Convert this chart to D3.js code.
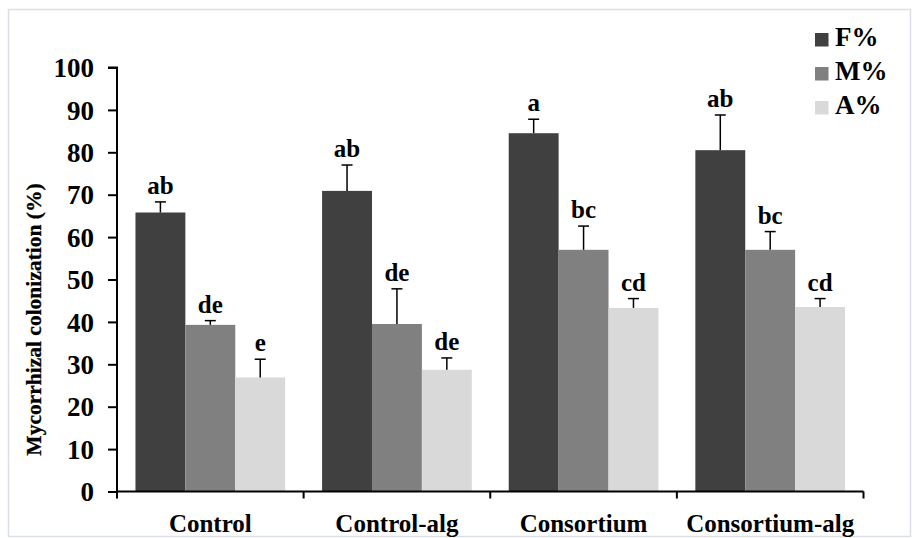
<!DOCTYPE html>
<html>
<head>
<meta charset="utf-8">
<script src="https://cdn.jsdelivr.net/npm/d3@7"></script>
<style>
  html, body { margin: 0; padding: 0; background: #fff; }
  svg { display: block; }
  svg text { font-family: "Liberation Serif", "Times New Roman", serif; font-weight: bold; }
</style>
</head>
<body>
<svg id="chart" width="912" height="538"></svg>
<script>
// Treatments and measured colonization parameters
const categories = ["Control", "Control-alg", "Consortium", "Consortium-alg"];
const seriesNames = ["F%", "M%", "A%"];
const seriesColors = ["#404040", "#808080", "#d9d9d9"];

// Mean values per series (one value per treatment)
const fValues = [65.8, 70.9, 84.5, 80.5];
const mValues = [39.3, 39.5, 57.0, 57.0];
const aValues = [26.9, 28.7, 43.3, 43.5];

// Upper end of each error bar
const fErrTop = [68.3, 77.0, 87.8, 88.8];
const mErrTop = [40.3, 47.8, 62.6, 61.3];
const aErrTop = [31.2, 31.5, 45.5, 45.5];

// Significance letters
const fLetters = ["ab", "ab", "a", "ab"];
const mLetters = ["de", "de", "bc", "bc"];
const aLetters = ["e", "de", "cd", "cd"];

const yTicks = [0, 10, 20, 30, 40, 50, 60, 70, 80, 90, 100];

const series = [
  { name: seriesNames[0], color: seriesColors[0], values: fValues, err: fErrTop, letters: fLetters },
  { name: seriesNames[1], color: seriesColors[1], values: mValues, err: mErrTop, letters: mLetters },
  { name: seriesNames[2], color: seriesColors[2], values: aValues, err: aErrTop, letters: aLetters }
];

const svg = d3.select("#chart");

// outer frame
svg.append("rect")
  .attr("x", 8.5).attr("y", 9.5)
  .attr("width", 902).attr("height", 527)
  .attr("fill", "none").attr("stroke", "#dcdfe6").attr("stroke-width", 1.5);

const plot = { left: 117, right: 863.5, top: 67.5, bottom: 491.5 };

const x = d3.scaleBand().domain(categories).range([plot.left, plot.right]).paddingInner(0).paddingOuter(0);
const inner = d3.scaleBand().domain(seriesNames).range([0, x.bandwidth()]).paddingInner(0).paddingOuter(0.37);
const y = d3.scaleLinear().domain([0, 100]).range([plot.bottom, plot.top]);

// bars
const groups = svg.append("g").selectAll("g")
  .data(series).join("g");

groups.selectAll("rect")
  .data(s => s.values.map((v, i) => ({ v, i, s })))
  .join("rect")
  .attr("x", d => x(categories[d.i]) + inner(d.s.name))
  .attr("y", d => y(d.v))
  .attr("width", inner.bandwidth())
  .attr("height", d => y(0) - y(d.v))
  .attr("fill", d => d.s.color);

// error bars (upper half only)
const errG = svg.append("g").attr("stroke", "#000").attr("stroke-width", 1.5);
series.forEach(s => {
  s.values.forEach((v, i) => {
    const cx = x(categories[i]) + inner(s.name) + inner.bandwidth() / 2;
    errG.append("line").attr("x1", cx).attr("x2", cx).attr("y1", y(v)).attr("y2", y(s.err[i]));
    errG.append("line").attr("x1", cx - 5.5).attr("x2", cx + 5.5).attr("y1", y(s.err[i])).attr("y2", y(s.err[i]));
  });
});

// significance letters
series.forEach(s => {
  svg.append("g").selectAll("text")
    .data(s.letters)
    .join("text")
    .attr("x", (d, i) => x(categories[i]) + inner(s.name) + inner.bandwidth() / 2)
    .attr("y", (d, i) => y(s.err[i]) - 8)
    .attr("text-anchor", "middle")
    .attr("font-size", 25)
    .attr("fill", "#000")
    .text(d => d);
});

// y axis
const yAxis = d3.axisLeft(y).tickValues(yTicks).tickSize(9).tickPadding(14).tickFormat(d3.format("d"));
const yg = svg.append("g").attr("transform", `translate(${plot.left},0)`).call(yAxis);
yg.attr("font-family", null).attr("font-size", null);
yg.select(".domain").attr("stroke", "#000").attr("stroke-width", 2).attr("d", `M-9,${plot.top}H0V${plot.bottom}`);
yg.selectAll(".tick line").attr("stroke", "#000").attr("stroke-width", 2);
yg.selectAll(".tick text").attr("font-size", 27).attr("fill", "#000").attr("dy", "0.34em");

// x axis with ticks at category boundaries
const xg = svg.append("g").attr("transform", `translate(0,${plot.bottom})`);
xg.append("line").attr("x1", plot.left).attr("x2", plot.right).attr("y1", 0).attr("y2", 0)
  .attr("stroke", "#000").attr("stroke-width", 2);
const bounds = categories.map(c => x(c)).concat([plot.right]);
xg.selectAll("line.tk").data(bounds).join("line").attr("class", "tk")
  .attr("x1", d => d).attr("x2", d => d).attr("y1", 0).attr("y2", 7)
  .attr("stroke", "#000").attr("stroke-width", 2);
xg.selectAll("text").data(categories).join("text")
  .attr("x", d => x(d) + x.bandwidth() / 2)
  .attr("y", 40)
  .attr("text-anchor", "middle")
  .attr("font-size", 25)
  .attr("fill", "#000")
  .text(d => d);

// y axis title
svg.append("text")
  .attr("transform", `translate(41,${(plot.top + plot.bottom) / 2 + 40}) rotate(-90)`)
  .attr("text-anchor", "middle")
  .style("font-family", "'Liberation Serif', serif")
  .style("font-weight", "700")
  .style("font-size", "21.5px")
  .style("stroke", "#000")
  .style("stroke-width", "0.3px")
  .attr("fill", "#000")
  .text("Mycorrhizal colonization (%)");

// legend
const legend = svg.append("g").attr("transform", "translate(815,33)");
series.forEach((s, i) => {
  const g = legend.append("g").attr("transform", `translate(0,${i * 34})`);
  g.append("rect").attr("x", 0).attr("y", 0).attr("width", 13.5).attr("height", 13.5).attr("fill", s.color);
  g.append("text").attr("x", 20).attr("y", 13).attr("font-size", 27).attr("fill", "#000").text(s.name);
});
</script>
</body>
</html>
